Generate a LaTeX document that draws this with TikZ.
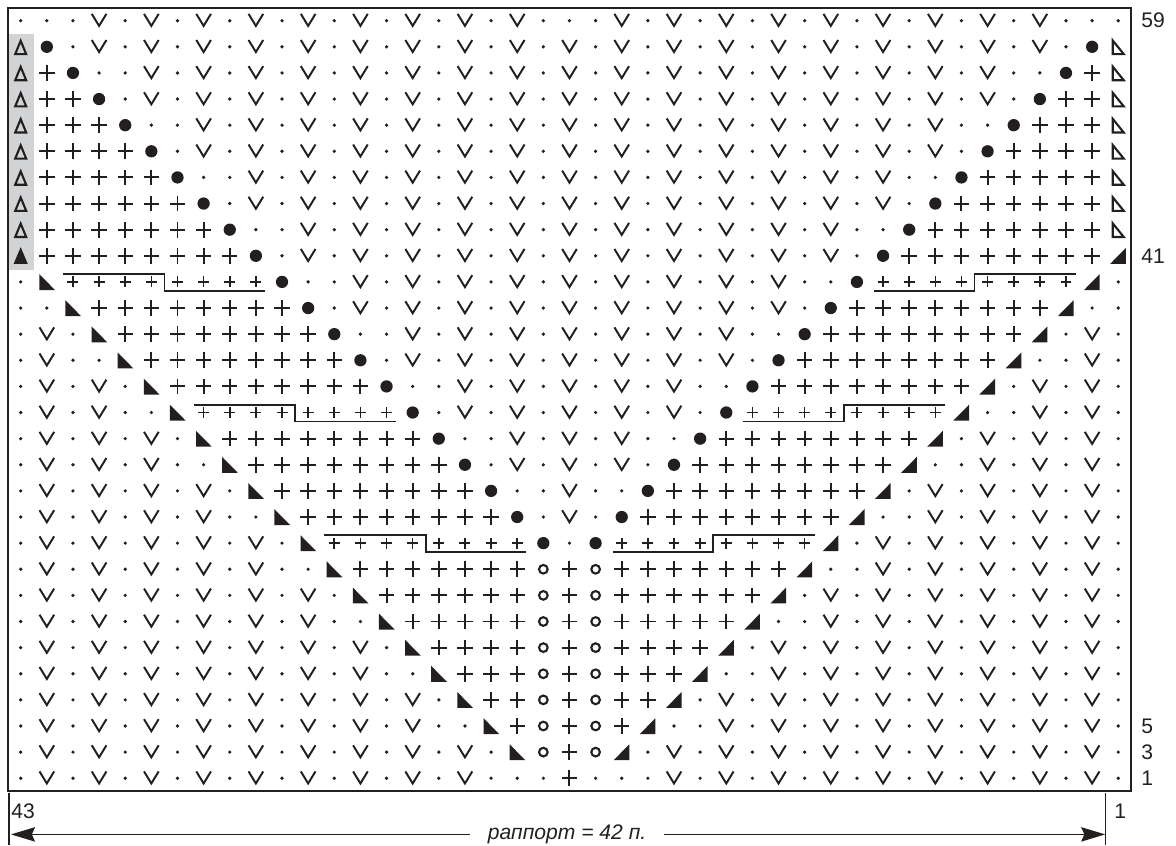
\documentclass[tikz,border=0pt]{standalone}
\usepackage{fontspec,xstring}
\setmainfont{Liberation Sans}
\definecolor{chartink}{RGB}{35,31,32}
\definecolor{chartgray}{RGB}{209,211,212}
\usetikzlibrary{arrows.meta,positioning}
\tikzset{
  thinstitch/.style={line width=1.4pt},
  stepline/.style={line width=1.2pt},
  st-/.pic={\fill (0,0) circle[radius=0.07];},
  stV/.pic={\draw[thinstitch] (-0.28,-0.26) -- (0,0.2) -- (0.28,-0.26);},
  st+/.pic={\draw[thinstitch] (-0.295,0) -- (0.295,0) (0,-0.3) -- (0,0.3);},
  sts/.pic={\draw[line width=1.15pt] (-0.21,0) -- (0.21,0) (0,-0.21) -- (0,0.21);},
  stB/.pic={\fill (0,0) circle[radius=0.235];},
  sto/.pic={\draw[line width=1.5pt] (0,0) circle[radius=0.165];},
  stL/.pic={\fill (-0.29,-0.3) -- (-0.29,0.31) -- (0.31,0.31) -- cycle;},
  stR/.pic={\fill (0.29,-0.3) -- (0.29,0.31) -- (-0.31,0.31) -- cycle;},
  stA/.pic={\draw[line width=1.5pt] (-0.21,0.28) -- (0,-0.23) -- (0.21,0.28) -- cycle;},
  stF/.pic={\fill (-0.27,0.31) -- (0,-0.33) -- (0.27,0.31) -- cycle;},
  stW/.pic={\draw[line width=1.5pt] (-0.21,-0.24) -- (-0.21,0.28) -- (0.21,0.28) -- cycle;},
  numlabel/.style={anchor=west, inner sep=0pt, font=\fontsize{15}{15}\selectfont},
}

\begin{document}
\begin{tikzpicture}[x=0.65325cm, y=-0.653cm, color=chartink]
  \useasboundingbox (-0.792,-0.792) rectangle (44.21,31.56);
  \fill[chartgray] (-0.45,0.5) rectangle (0.5,9.54);
  \draw[line width=1.3pt] (-0.5,-0.5) rectangle (42.5,29.5);
  % chart, top row first
  \foreach \row [count=\r from 0] in {
    ---V-V-V-V-V-V-V-V-V---V-V-V-V-V-V-V-V-V---,
    AB-V-V-V-V-V-V-V-V-V-V-V-V-V-V-V-V-V-V-V-BW,
    A+B--V-V-V-V-V-V-V-V-V-V-V-V-V-V-V-V-V--B+W,
    A++B-V-V-V-V-V-V-V-V-V-V-V-V-V-V-V-V-V-B++W,
    A+++B--V-V-V-V-V-V-V-V-V-V-V-V-V-V-V--B+++W,
    A++++B-V-V-V-V-V-V-V-V-V-V-V-V-V-V-V-B++++W,
    A+++++B--V-V-V-V-V-V-V-V-V-V-V-V-V--B+++++W,
    A++++++B-V-V-V-V-V-V-V-V-V-V-V-V-V-B++++++W,
    A+++++++B--V-V-V-V-V-V-V-V-V-V-V--B+++++++W,
    F++++++++B-V-V-V-V-V-V-V-V-V-V-V-B++++++++R,
    -LssssssssB--V-V-V-V-V-V-V-V-V--BssssssssR-,
    --L++++++++B-V-V-V-V-V-V-V-V-V-B++++++++R--,
    -V-L++++++++B--V-V-V-V-V-V-V--B++++++++R-V-,
    -V--L++++++++B-V-V-V-V-V-V-V-B++++++++R--V-,
    -V-V-L++++++++B--V-V-V-V-V--B++++++++R-V-V-,
    -V-V--LssssssssB-V-V-V-V-V-BssssssssR--V-V-,
    -V-V-V-L++++++++B--V-V-V--B++++++++R-V-V-V-,
    -V-V-V--L++++++++B-V-V-V-B++++++++R--V-V-V-,
    -V-V-V-V-L++++++++B--V--B++++++++R-V-V-V-V-,
    -V-V-V-V--L++++++++B-V-B++++++++R--V-V-V-V-,
    -V-V-V-V-V-LssssssssB-BssssssssR-V-V-V-V-V-,
    -V-V-V-V-V--L+++++++o+o+++++++R--V-V-V-V-V-,
    -V-V-V-V-V-V-L++++++o+o++++++R-V-V-V-V-V-V-,
    -V-V-V-V-V-V--L+++++o+o+++++R--V-V-V-V-V-V-,
    -V-V-V-V-V-V-V-L++++o+o++++R-V-V-V-V-V-V-V-,
    -V-V-V-V-V-V-V--L+++o+o+++R--V-V-V-V-V-V-V-,
    -V-V-V-V-V-V-V-V-L++o+o++R-V-V-V-V-V-V-V-V-,
    -V-V-V-V-V-V-V-V--L+o+o+R--V-V-V-V-V-V-V-V-,
    -V-V-V-V-V-V-V-V-V-Lo+oR-V-V-V-V-V-V-V-V-V-,
    -V-V-V-V-V-V-V-V-V---+---V-V-V-V-V-V-V-V-V-} {
    \foreach \c in {1,...,43} {
      \StrChar{\row}{\c}[\stch]
      \pic at (\c-1,\r) {st\stch};
    }
  }
  % short rows, left and right
  \foreach \r in {10,15,20} {
    \draw[stepline] (\r-8.38,\r-0.3) -| (\r-4.5,\r+0.34) -- (\r-0.65,\r+0.34);
    \draw[stepline] (50.38-\r,\r-0.3) -| (46.5-\r,\r+0.34) -- (42.65-\r,\r+0.34);
  }
  \foreach \r/\t in {0/59,9/41,27/5,28/3,29/1}
    \node[numlabel] (row\t) at (42.87,\r) {\t};
  \node[numlabel] (col43) at (-0.37,30.26) {43};
  \node[numlabel] (col1) at (41.84,30.26) {1};
  % repeat
  \coordinate (lefttop) at (-0.448,29.57);
  \coordinate (leftbot) at (-0.448,31.56);
  \coordinate (righttop) at (41.51,29.57);
  \coordinate (rightbot) at (41.51,31.56);
  \coordinate (lefttip) at (-0.37,31.15);
  \coordinate (righttip) at (41.5,31.15);
  \draw[line width=0.8pt] (lefttop) -- (leftbot);
  \draw[line width=0.8pt] (righttop) -- (rightbot);
  \node[minimum width=4.85cm, inner xsep=0pt, inner ysep=0pt, font=\fontsize{15}{15}\selectfont\itshape] (rapport) at (20.91,31.15) {раппорт = 42 п.};
  \draw[line width=0.8pt, -{Stealth[length=0.6cm, width=0.36cm, inset=0.08cm]}] (rapport.west) -- (lefttip);
  \draw[line width=0.8pt, -{Stealth[length=0.6cm, width=0.36cm, inset=0.08cm]}] (rapport.east) -- (righttip);
\end{tikzpicture}
\end{document}
